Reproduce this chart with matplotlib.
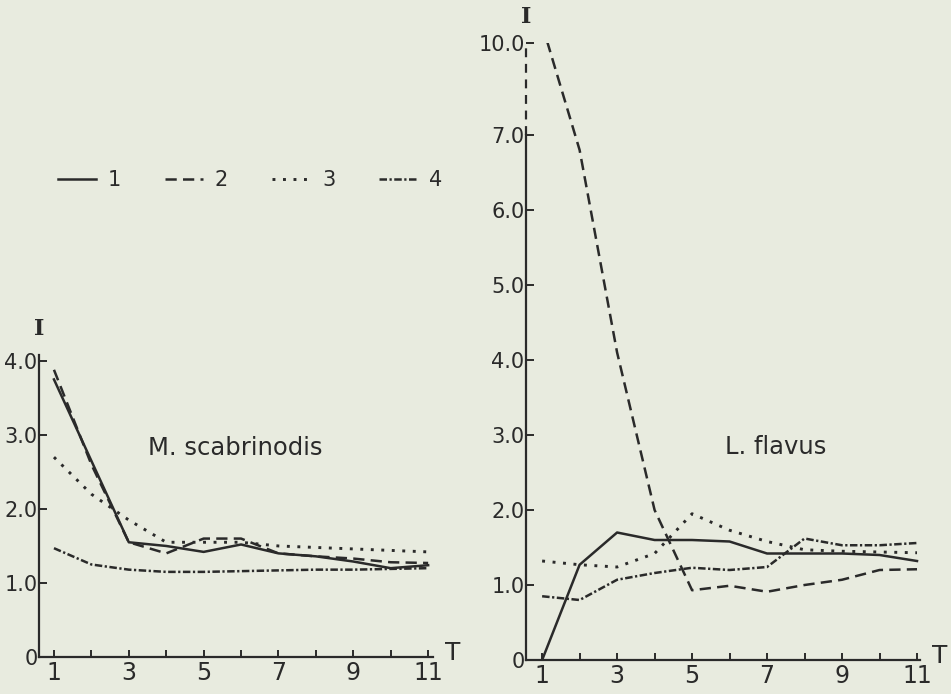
import numpy as np
import matplotlib
matplotlib.use('Agg')
import matplotlib.pyplot as plt
from matplotlib.lines import Line2D

# sampling time T (x axis) and index values I for the four series
T = np.arange(1, 12)

# M. scabrinodis
ms_1 = [3.75, 2.65, 1.55, 1.50, 1.42, 1.52, 1.40, 1.36, 1.29, 1.20, 1.24]
ms_2 = [3.88, 2.60, 1.55, 1.40, 1.60, 1.60, 1.40, 1.36, 1.33, 1.28, 1.27]
ms_3 = [2.70, 2.20, 1.85, 1.55, 1.55, 1.55, 1.50, 1.48, 1.46, 1.44, 1.42]
ms_4 = [1.47, 1.25, 1.18, 1.15, 1.15, 1.16, 1.17, 1.18, 1.18, 1.19, 1.20]

# L. flavus
lf_1 = [0.00, 1.27, 1.70, 1.60, 1.60, 1.58, 1.42, 1.42, 1.42, 1.40, 1.32]
lf_2 = [10.6, 6.80, 4.10, 2.00, 0.93, 0.99, 0.91, 1.00, 1.07, 1.20, 1.21]
lf_3 = [1.32, 1.27, 1.24, 1.42, 1.95, 1.73, 1.58, 1.47, 1.45, 1.44, 1.43]
lf_4 = [0.85, 0.80, 1.07, 1.16, 1.23, 1.20, 1.24, 1.62, 1.53, 1.53, 1.56]

series_labels = ['1', '2', '3', '4']
left_yticks = [0, 1, 2, 3, 4]
right_yticks = [0, 1, 2, 3, 4, 5, 6, 7, 10]

bg = '#e8ebdf'
ink = '#2a2a2a'
styles = ['-', (0, (4.5, 2.5)), (0, (1, 2.6)), (0, (3, 1, 0.9, 1))]
widths = [1.8, 1.8, 2.1, 1.8]

# broken y axis on the right panel: above 7.0 the scale is compressed
brk = 7.0
k = 0.409

def fwd(y):
    y = np.asarray(y, dtype=float)
    return np.where(y <= brk, y, brk + (y - brk) * k)

def inv(u):
    u = np.asarray(u, dtype=float)
    return np.where(u <= brk, u, brk + (u - brk) / k)

plt.rcParams['font.family'] = 'DejaVu Sans'

fig = plt.figure(figsize=(9.51, 6.94), dpi=100, facecolor=bg)
ax1 = fig.add_axes([39/951, 37/694, 394/951, 302/694])
ax2 = fig.add_axes([526/951, 34/694, 394/951, 617/694])


def ylab(v):
    return '0' if v == 0 else '%.1f' % v


def style_axis(ax, yticks):
    ax.set_facecolor('none')
    for s in ['top', 'right']:
        ax.spines[s].set_visible(False)
    for s in ['left', 'bottom']:
        ax.spines[s].set_linewidth(1.6)
        ax.spines[s].set_color(ink)
    ax.set_xticks(T)
    ax.set_xticklabels([str(t) if t % 2 else '' for t in T])
    ax.set_yticks(yticks)
    ax.set_yticklabels([ylab(v) for v in yticks])
    ax.tick_params(axis='x', direction='in', length=5, width=1.4, pad=3,
                   labelsize=17, colors=ink)
    ax.tick_params(axis='y', direction='in', length=6, width=1.4, pad=1,
                   labelsize=15, colors=ink)
    ax.annotate('I', xy=(0, 1), xycoords='axes fraction', xytext=(0, 11),
                textcoords='offset points', ha='center', va='bottom',
                fontsize=16, family='DejaVu Serif', fontweight='bold',
                color=ink)
    ax.annotate('T', xy=(1, 0), xycoords='axes fraction', xytext=(14, 3),
                textcoords='offset points', ha='center', va='center',
                fontsize=18, color=ink)


# left panel
for vals, ls, w in zip([ms_1, ms_2, ms_3, ms_4], styles, widths):
    ax1.plot(T, vals, color=ink, lw=w, ls=ls)
ax1.set_xlim(0.6, 11.13)
ax1.set_ylim(0, 4.08)
style_axis(ax1, left_yticks)
ax1.text(3.5, 2.82, 'M. scabrinodis', fontsize=17.5, va='center', color=ink)

# right panel
ax2.set_yscale('function', functions=(fwd, inv))
for vals, ls, w in zip([lf_1, lf_2, lf_3, lf_4], styles, widths):
    ax2.plot(T, vals, color=ink, lw=w, ls=ls)
ax2.set_xlim(0.57, 11.08)
ax2.set_ylim(0, 10)
style_axis(ax2, right_yticks)
ax2.spines['left'].set_bounds(0, brk)
ax2.axvline(ax2.get_xlim()[0], ymin=float(fwd(brk) / fwd(10)), ymax=1,
            color=ink, lw=1.6, ls=(0, (4, 3)), clip_on=False)
ax2.text(5.88, 2.84, 'L. flavus', fontsize=17.5, va='center', color=ink)

# legend across the top of the left panel
handles = [Line2D([], [], color=ink, lw=w, ls=ls) for ls, w in zip(styles, widths)]
fig.legend(handles, series_labels, loc='center left',
           bbox_to_anchor=(58/951, 1 - 180/694), ncol=4, frameon=False,
           borderpad=0, borderaxespad=0, handlelength=1.8,
           handletextpad=0.6, columnspacing=2.1, fontsize=15,
           labelcolor=ink)

fig.savefig('out.png', dpi=100, facecolor=bg)
